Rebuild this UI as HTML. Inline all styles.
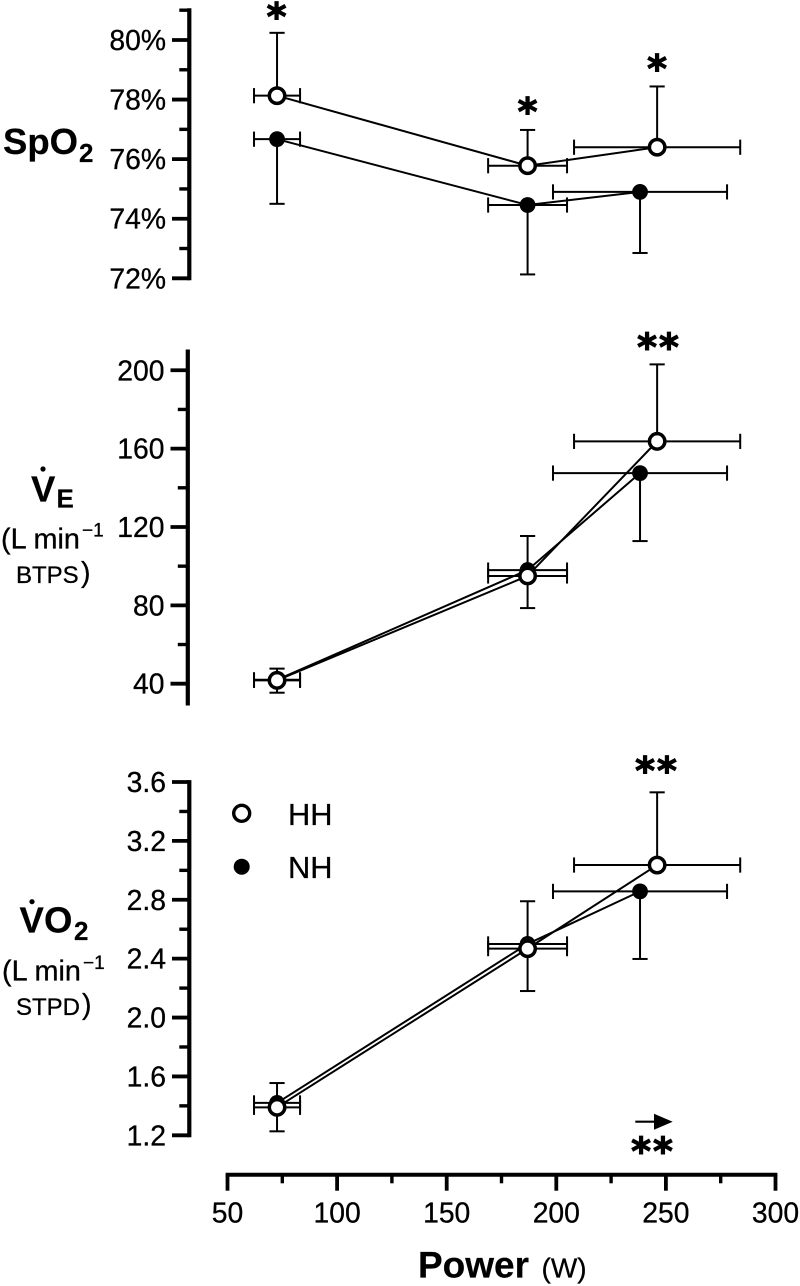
<!DOCTYPE html>
<html lang="en">
<head>
<meta charset="utf-8">
<title>SpO2, ventilation and oxygen uptake versus power</title>
<style>
html,body{margin:0;padding:0;background:#fff;width:800px;height:1286px;overflow:hidden}
svg{display:block;filter:blur(0.3px)}
text{font-family:"Liberation Sans",sans-serif;fill:#000;stroke:#000;stroke-width:0.3px}
.b{font-weight:700;stroke-width:0.2px}
.star{font-family:"DejaVu Sans",sans-serif;font-weight:700;font-size:38px;text-anchor:middle;stroke-width:1.1px}
.tick{font-size:28.3px;text-anchor:end}
.xt{font-size:28.3px;text-anchor:middle}
</style>
</head>
<body>
<svg id="chart" xmlns="http://www.w3.org/2000/svg" width="800" height="1286" viewBox="0 0 800 1286">
  <rect x="0" y="0" width="800" height="1286" fill="#fff"/>

  <g>
    <text class="b" x="3" y="154" font-size="36.5">SpO</text>
    <text class="b" x="79" y="162" font-size="26">2</text>
  </g>

  <g>
    <text class="b" x="31" y="501.5" font-size="36.5">V</text>
    <circle cx="43" cy="469" r="2.6" fill="#000"/>
    <text class="b" x="56.5" y="507.5" font-size="26">E</text>
    <text x="1" y="548.3" font-size="28.8">(L min</text>
    <text x="82" y="536.7" font-size="19">−1</text>
    <text x="16" y="583" font-size="24">BTPS</text>
    <text x="81" y="582" font-size="28.5">)</text>
  </g>

  <g>
    <text class="b" x="19.5" y="932.7" font-size="36.5">V</text>
    <circle cx="32" cy="901.7" r="2.6" fill="#000"/>
    <text class="b" x="44" y="932.7" font-size="36.5">O</text>
    <text class="b" x="74" y="940" font-size="26">2</text>
    <text x="2" y="980.7" font-size="28.8">(L min</text>
    <text x="83" y="969" font-size="19">−1</text>
    <text x="16" y="1015" font-size="24">STPD</text>
    <text x="82" y="1014" font-size="28.5">)</text>
  </g>

  <g id="plots"></g>

  <g>
    <g>
      <circle cx="241.7" cy="813.3" r="8" fill="#fff" stroke="#000" stroke-width="3.4"/>
      <text x="288" y="825" font-size="30.8">HH</text>
    </g>
    <g>
      <circle cx="241.7" cy="866.7" r="8" fill="#000"/>
      <text x="288" y="878" font-size="30.8">NH</text>
    </g>
  </g>

  <g>
    <text class="star" x="276.5" y="30">*</text>
    <text class="star" x="527.5" y="125">*</text>
    <text class="star" x="657" y="82">*</text>
    <text class="star" x="659" y="360.5" letter-spacing="2">**</text>
    <text class="star" x="657" y="784" letter-spacing="2">**</text>
    <text class="star" x="653" y="1164.5" letter-spacing="2">**</text>
  </g>

  <g>
    <line x1="635.3" y1="1121.7" x2="656" y2="1121.7" stroke="#000" stroke-width="2.2"/>
    <polygon points="654,1113.7 672.7,1121.7 654,1129.7" fill="#000"/>
  </g>

  <g>
    <text class="b" x="418" y="1277.7" font-size="37">Power</text>
    <text x="541.5" y="1277.7" font-size="28">(W)</text>
  </g>
</svg>
<script>
// Shared power values (W)
const powerTicks = [50, 100, 150, 200, 250, 300];
const powerMinorTicks = [75, 125, 175, 225, 275];
const powerHH = [72.6, 186.9, 246];
const powerNH = [72.6, 186.9, 238.2];
const powerErrHH = [10.5, 18, 37.9];
const powerErrNH = [10.5, 18, 39.7];

// SpO2 (%)
const spo2Ticks = [72, 74, 76, 78, 80];
const spo2TickLabels = ['72%', '74%', '76%', '78%', '80%'];
const spo2MinorTicks = [73, 75, 77, 79, 81];
const spo2HH = [78.13, 75.78, 76.4];
const spo2NH = [76.67, 74.46, 74.9];
const spo2UpperHH = [80.24, 76.98, 78.44];
const spo2LowerNH = [74.5, 72.13, 72.85];

// Ventilation (L/min BTPS)
const veTicks = [40, 80, 120, 160, 200];
const veTickLabels = ['40', '80', '120', '160', '200'];
const veMinorTicks = [60, 100, 140, 180];
const veHH = [41.7, 95, 163.7];
const veNH = [42, 98, 147.5];
const veUpperHH = [47.7, 115.4, 203];
const veLowerNH = [35.4, 78.6, 112.8];

// Oxygen uptake (L/min STPD)
const vo2Ticks = [1.2, 1.6, 2.0, 2.4, 2.8, 3.2, 3.6];
const vo2TickLabels = ['1.2', '1.6', '2.0', '2.4', '2.8', '3.2', '3.6'];
const vo2MinorTicks = [1.4, 1.8, 2.2, 2.6, 3.0, 3.4];
const vo2HH = [1.39, 2.468, 3.036];
const vo2NH = [1.42, 2.5, 2.857];
const vo2UpperHH = [1.555, 2.79, 3.53];
const vo2LowerNH = [1.227, 2.18, 2.398];

const SVG_NS = 'http://www.w3.org/2000/svg';
const INK = '#000';
const plots = document.getElementById('plots');
const xScale = function (v) { return 227.5 + (v - 50) * 2.192; };

function mk(parent, tag, attrs) {
  const el = document.createElementNS(SVG_NS, tag);
  Object.keys(attrs).forEach(function (k) { el.setAttribute(k, attrs[k]); });
  parent.appendChild(el);
  return el;
}
function seg(parent, x1, y1, x2, y2, w) {
  return mk(parent, 'line', { x1: x1, y1: y1, x2: x2, y2: y2, stroke: INK, 'stroke-width': w });
}

function drawErrors(g, px, py, pxErr, yCap, yScale) {
  px.forEach(function (p, i) {
    const cx = xScale(p);
    const cy = yScale(py[i]);
    const xl = xScale(p - pxErr[i]);
    const xr = xScale(p + pxErr[i]);
    const capY = yScale(yCap[i]);
    const h = seg(g, xl, cy, xr, cy, 2);
    
    
    const hl = seg(g, xl, cy - 7.6, xl, cy + 7.6, 2);
    
    
    const hr = seg(g, xr, cy - 7.6, xr, cy + 7.6, 2);
    
    
    const v = seg(g, cx, cy, cx, capY, 2);
    
    
    const vc = seg(g, cx - 7.6, capY, cx + 7.6, capY, 2);
    
    
  });
}

function drawConnector(g, px, py, yScale) {
  const pts = px.map(function (p, i) { return xScale(p) + ',' + yScale(py[i]); }).join(' ');
  const pl = mk(g, 'polyline', { points: pts, fill: 'none', stroke: INK, 'stroke-width': 2 });
  
  
}

function drawPanel(cfg) {
  const yScale = cfg.yScale;
  const panel = mk(plots, 'g', {});
  
  

  const axis = mk(panel, 'g', {});
  
  
  const spine = seg(axis, cfg.axisX, cfg.axisTop, cfg.axisX, cfg.axisBottom, 4.2);
  
  
  cfg.ticks.forEach(function (t, i) {
    const y = yScale(t);
    const tk = seg(axis, cfg.axisX - 17.3, y, cfg.axisX, y, 3.8);
    
    
    const lb = mk(axis, 'text', { class: 'tick', x: cfg.axisX - 23.3, y: y + 10 });
    
    
    lb.textContent = cfg.labels[i];
  });
  cfg.minor.forEach(function (t) {
    const y = yScale(t);
    const tk = seg(axis, cfg.axisX - 10, y, cfg.axisX, y, 3.4);
    
    
  });

  const nh = mk(panel, 'g', {});
  
  
  drawErrors(nh, powerNH, cfg.nh, powerErrNH, cfg.lowerNH, yScale);
  drawConnector(nh, powerNH, cfg.nh, yScale);
  powerNH.forEach(function (p, i) {
    const c = mk(nh, 'circle', { cx: xScale(p), cy: yScale(cfg.nh[i]), r: 7.9, fill: INK });
    
    
  });

  const hh = mk(panel, 'g', {});
  
  
  drawErrors(hh, powerHH, cfg.hh, powerErrHH, cfg.upperHH, yScale);
  drawConnector(hh, powerHH, cfg.hh, yScale);
  powerHH.forEach(function (p, i) {
    const c = mk(hh, 'circle', { cx: xScale(p), cy: yScale(cfg.hh[i]), r: 7.7, fill: '#fff', stroke: INK, 'stroke-width': 3.5 });
    
    
  });
}

drawPanel({
  name: 'spo2-panel',
  yScale: function (v) { return 278.3 - (v - 72) * 29.79; },
  axisX: 189.3, axisTop: 8.3, axisBottom: 280.2,
  ticks: spo2Ticks, labels: spo2TickLabels, minor: spo2MinorTicks,
  hh: spo2HH, nh: spo2NH, upperHH: spo2UpperHH, lowerNH: spo2LowerNH
});
drawPanel({
  name: 've-panel',
  yScale: function (v) { return 683.7 - (v - 40) * 1.959; },
  axisX: 187.8, axisTop: 349.5, axisBottom: 705.5,
  ticks: veTicks, labels: veTickLabels, minor: veMinorTicks,
  hh: veHH, nh: veNH, upperHH: veUpperHH, lowerNH: veLowerNH
});
drawPanel({
  name: 'vo2-panel',
  yScale: function (v) { return 1135.3 - (v - 1.2) * 147.2; },
  axisX: 189.3, axisTop: 780.1, axisBottom: 1137.2,
  ticks: vo2Ticks, labels: vo2TickLabels, minor: vo2MinorTicks,
  hh: vo2HH, nh: vo2NH, upperHH: vo2UpperHH, lowerNH: vo2LowerNH
});

const xAxis = mk(plots, 'g', {});


const xLine = seg(xAxis, xScale(50) - 1.9, 1174.7, xScale(300) + 1.9, 1174.7, 4);


powerTicks.forEach(function (t) {
  const x = xScale(t);
  const tk = seg(xAxis, x, 1174.7, x, 1190.7, 3.8);
  
  
  const lb = mk(xAxis, 'text', { class: 'xt', x: x, y: 1222.7 });
  
  
  lb.textContent = String(t);
});
powerMinorTicks.forEach(function (t) {
  const x = xScale(t);
  const tk = seg(xAxis, x, 1174.7, x, 1183.3, 3.4);
  
  
});
</script>
</body>
</html>
